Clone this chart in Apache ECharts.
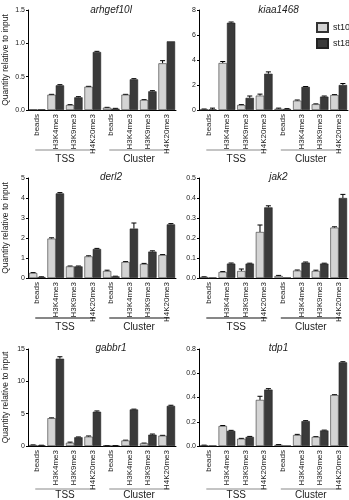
<!DOCTYPE html>
<html><head><meta charset="utf-8">
<script src="https://cdn.jsdelivr.net/npm/echarts@6/dist/echarts.min.js"></script>
<style>html,body{margin:0;padding:0;background:#fff}#c{width:349px;height:500px}</style>
</head><body><div id="c"></div>
<script>
// ---- data ----
const categories = ['beads','H3K4me3','H3K9me3','H4K20me3','beads','H3K4me3','H3K9me3','H4K20me3'];
const groups = ['TSS','Cluster'];
const seriesNames = ['st10','st18'];
const genes = ['arhgef10l','kiaa1468','derl2','jak2','gabbr1','tdp1'];
const yMax = [1.5, 8, 5, 0.5, 15, 0.8];
const yStep = [0.5, 2, 1, 0.1, 5, 0.2];
const yDecimals = [1, 0, 0, 1, 0, 1];

const arhgef10l_st10 = [0.01, 0.23, 0.075, 0.35, 0.035, 0.23, 0.15, 0.70];
const arhgef10l_st18 = [0.01, 0.37, 0.19, 0.87, 0.02, 0.46, 0.28, 1.03];
const arhgef10l_err10 = [0, 0.005, 0.005, 0.005, 0.005, 0.005, 0.005, 0.04];
const arhgef10l_err18 = [0, 0.01, 0.01, 0.01, 0.005, 0.01, 0.01, 0];

const kiaa1468_st10 = [0.05, 3.76, 0.40, 1.15, 0.10, 0.75, 0.46, 1.20];
const kiaa1468_st18 = [0.05, 6.98, 0.97, 2.90, 0.08, 1.85, 1.07, 2.00];
const kiaa1468_err10 = [0.03, 0.12, 0.03, 0.12, 0.05, 0.05, 0.03, 0.03];
const kiaa1468_err18 = [0.10, 0.06, 0.15, 0.15, 0.03, 0.03, 0.05, 0.12];

const derl2_st10 = [0.25, 1.97, 0.58, 1.08, 0.35, 0.80, 0.70, 1.15];
const derl2_st18 = [0.05, 4.23, 0.58, 1.45, 0.08, 2.47, 1.32, 2.68];
const derl2_err10 = [0.02, 0.04, 0.02, 0.03, 0.04, 0.02, 0.03, 0.02];
const derl2_err18 = [0.01, 0.04, 0.02, 0.03, 0.01, 0.28, 0.04, 0.04];

const jak2_st10 = [0.005, 0.030, 0.035, 0.230, 0.010, 0.037, 0.035, 0.252];
const jak2_st18 = [0.002, 0.072, 0.072, 0.353, 0.002, 0.077, 0.072, 0.400];
const jak2_err10 = [0.001, 0.002, 0.010, 0.035, 0.003, 0.003, 0.004, 0.004];
const jak2_err18 = [0, 0.003, 0.002, 0.008, 0, 0.003, 0.002, 0.018];

const gabbr1_st10 = [0.15, 4.3, 0.5, 1.45, 0.05, 0.85, 0.4, 1.6];
const gabbr1_st18 = [0.10, 13.5, 1.35, 5.3, 0.05, 5.65, 1.75, 6.2];
const gabbr1_err10 = [0.02, 0.05, 0.10, 0.10, 0.02, 0.05, 0.05, 0.05];
const gabbr1_err18 = [0.02, 0.30, 0.05, 0.12, 0.02, 0.05, 0.10, 0.10];

const tdp1_st10 = [0.005, 0.165, 0.060, 0.380, 0.010, 0.090, 0.075, 0.420];
const tdp1_st18 = [0.003, 0.125, 0.075, 0.465, 0.002, 0.205, 0.128, 0.690];
const tdp1_err10 = [0.002, 0.004, 0.003, 0.030, 0.002, 0.006, 0.002, 0.003];
const tdp1_err18 = [0, 0.004, 0.004, 0.008, 0, 0.004, 0.003, 0.005];

const st10Values = [arhgef10l_st10, kiaa1468_st10, derl2_st10, jak2_st10, gabbr1_st10, tdp1_st10];
const st18Values = [arhgef10l_st18, kiaa1468_st18, derl2_st18, jak2_st18, gabbr1_st18, tdp1_st18];
const st10Err = [arhgef10l_err10, kiaa1468_err10, derl2_err10, jak2_err10, gabbr1_err10, tdp1_err10];
const st18Err = [arhgef10l_err18, kiaa1468_err18, derl2_err18, jak2_err18, gabbr1_err18, tdp1_err18];

// ---- layout ----
const FONT = 'Liberation Sans, Arial, sans-serif';
const gridLeft = [28, 199];
const gridTop = [10, 178, 349];
const gridW = [148, 149];
const gridH = 100;
const lineColors = ['#8a8a8a', '#8a8a8a', '#111', '#111', '#8a8a8a', '#8a8a8a'];
const BAR_FRAC = 0.45;

const chart = echarts.init(document.getElementById('c'), null, {renderer: 'canvas'});

const grids = [], xAxes = [], yAxes = [], series = [], titles = [];
for (let p = 0; p < 6; p++) {
  const col = p % 2, row = Math.floor(p / 2);
  grids.push({left: gridLeft[col], top: gridTop[row], width: gridW[col], height: gridH, containLabel: false});
  titles.push({
    text: genes[p],
    left: gridLeft[col] + gridW[col] / 2 + (col === 0 ? 4 : 0),
    top: gridTop[row] - (row === 0 ? 10 : 11),
    textAlign: 'center',
    textStyle: {fontFamily: FONT, fontSize: 10, fontStyle: 'italic', fontWeight: 'normal', color: '#222'}
  });
  xAxes.push({
    type: 'category', gridIndex: p, data: categories,
    axisLine: {show: true, lineStyle: {color: '#000', width: 1}},
    axisTick: {show: false},
    axisLabel: {rotate: 90, fontFamily: FONT, fontSize: 8, color: '#222', margin: 4, interval: 0}
  });
  xAxes.push({
    type: 'category', gridIndex: p, data: groups, position: 'bottom', offset: 44,
    axisLine: {show: false}, axisTick: {show: false},
    axisLabel: {fontFamily: FONT, fontSize: 10, color: '#222', margin: 0, interval: 0}
  });
  const dec = yDecimals[p];
  yAxes.push({
    type: 'value', gridIndex: p, min: 0, max: yMax[p], interval: yStep[p],
    name: col === 0 ? 'Quantity relative to input' : '',
    nameLocation: 'middle', nameGap: 18,
    nameTextStyle: {fontFamily: FONT, fontSize: 8.5, color: '#222'},
    axisLine: {show: true, lineStyle: {color: '#000', width: 1}},
    axisTick: {show: true, length: 2, lineStyle: {color: '#000'}},
    splitLine: {show: false},
    axisLabel: {fontFamily: FONT, fontSize: 7, color: '#222', margin: 3,
      formatter: v => v.toFixed(dec)}
  });
  const xi = p * 2;
  series.push({
    name: 'st10', type: 'bar', xAxisIndex: xi, yAxisIndex: p, data: st10Values[p],
    barWidth: (BAR_FRAC * 100) + '%', barGap: '0%',
    itemStyle: {color: '#d4d4d4', borderColor: '#333', borderWidth: 0.6}
  });
  series.push({
    name: 'st18', type: 'bar', xAxisIndex: xi, yAxisIndex: p, data: st18Values[p],
    barWidth: (BAR_FRAC * 100) + '%', barGap: '0%',
    itemStyle: {color: '#3a3a3a', borderColor: '#222', borderWidth: 0.6}
  });
  [[st10Values[p], st10Err[p], -1], [st18Values[p], st18Err[p], 1]].forEach(([vals, errs, side]) => {
    series.push({
      type: 'custom', xAxisIndex: xi, yAxisIndex: p, silent: true, z: 1,
      data: vals.map((v, i) => [i, v, errs[i]]),
      renderItem: function (params, api) {
        const i = api.value(0), v = api.value(1), e = api.value(2);
        if (!e) return null;
        const band = api.size([1, 0])[0];
        const bw = band * BAR_FRAC;
        const base = api.coord([i, v]);
        const top = api.coord([i, v + e]);
        const cx = base[0] + side * bw / 2;
        const cap = bw * 0.3;
        return {type: 'group', children: [
          {type: 'line', shape: {x1: cx, y1: base[1], x2: cx, y2: top[1]}, style: {stroke: '#000', lineWidth: 1}},
          {type: 'line', shape: {x1: cx - cap, y1: top[1], x2: cx + cap, y2: top[1]}, style: {stroke: '#000', lineWidth: 1}}
        ]};
      }
    });
  });
}

chart.setOption({
  animation: false,
  backgroundColor: '#fff',
  title: titles,
  grid: grids,
  xAxis: xAxes,
  yAxis: yAxes,
  legend: {
    data: seriesNames, orient: 'vertical', left: 316, top: 22, itemGap: 5, padding: 0,
    itemWidth: 11, itemHeight: 9, icon: 'rect',
    textStyle: {fontFamily: FONT, fontSize: 9, color: '#222'}
  },
  series: series
});

// group bracket lines under TSS and Cluster, positioned through the category axes
const graphics = [];
for (let p = 0; p < 6; p++) {
  const col = p % 2, row = Math.floor(p / 2);
  const xi = p * 2;
  const yLine = gridTop[row] + gridH + 40;
  [[0, 3], [4, 7]].forEach(([a, b]) => {
    const x1 = chart.convertToPixel({xAxisIndex: xi}, a) - 2;
    const x2 = chart.convertToPixel({xAxisIndex: xi}, b) + 3;
    graphics.push({type: 'line', shape: {x1: x1, y1: yLine, x2: x2, y2: yLine},
      style: {stroke: lineColors[p], lineWidth: 1.2}, silent: true});
  });
}
chart.setOption({graphic: graphics});
</script>
</body></html>
